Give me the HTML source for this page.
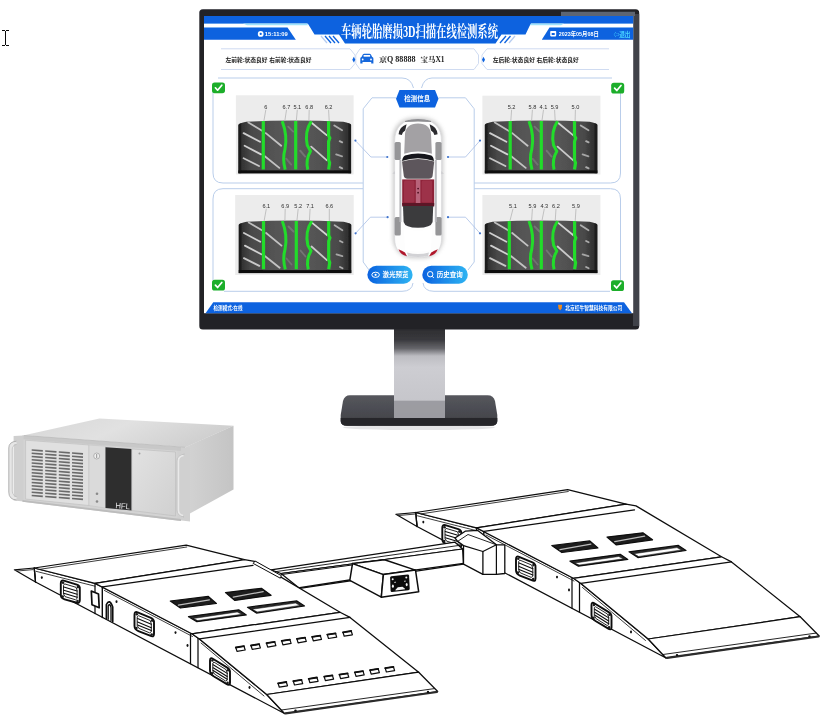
<!DOCTYPE html>
<html lang="zh-CN">
<head>
<meta charset="utf-8">
<title>车辆轮胎磨损3D扫描在线检测系统</title>
<style>
html,body{margin:0;padding:0;background:#fff;}
body{width:829px;height:723px;overflow:hidden;position:relative;font-family:"Liberation Sans","Noto Sans CJK SC",sans-serif;}
svg{position:absolute;left:0;top:0;display:block;}
.t{font-family:"Liberation Sans","Noto Sans CJK SC",sans-serif;}
.ts{font-family:"Liberation Serif","Noto Serif CJK SC",serif;}
.ln{fill:none;stroke:#0d0d0d;stroke-linejoin:round;stroke-linecap:round;}
.lw{fill:#fff;stroke:#0d0d0d;stroke-linejoin:round;stroke-linecap:round;}
.pb{fill:none;}
</style>
</head>
<body>
<svg width="829" height="723" viewBox="0 0 829 723">
<defs>
<linearGradient id="neck" x1="0" y1="0" x2="0" y2="1">
<stop offset="0" stop-color="#2a2a2e"/><stop offset="0.18" stop-color="#39393d"/><stop offset="0.3" stop-color="#66666b"/><stop offset="0.4" stop-color="#bdbdc2"/><stop offset="0.55" stop-color="#cdcdd2"/><stop offset="1" stop-color="#c6c6cb"/>
</linearGradient>
<linearGradient id="base" x1="0" y1="0" x2="0" y2="1">
<stop offset="0" stop-color="#56575d"/><stop offset="0.7" stop-color="#46474d"/><stop offset="1" stop-color="#2c2c30"/>
</linearGradient>
<linearGradient id="btn" x1="0" y1="0" x2="1" y2="0">
<stop offset="0" stop-color="#0a62e0"/><stop offset="1" stop-color="#2fb4f2"/>
</linearGradient>
<filter id="soft" x="-5%" y="-5%" width="110%" height="110%"><feGaussianBlur stdDeviation="0.45"/></filter>
<filter id="soft2" x="-20%" y="-20%" width="140%" height="140%"><feGaussianBlur stdDeviation="2.2"/></filter>
</defs>
<rect x="0" y="0" width="829" height="723" fill="#ffffff"/>
<!-- ===== monitor stand ===== -->
<g filter="url(#soft)">
<ellipse cx="419" cy="427.500" rx="76" ry="2.600" fill="#d9d9dc" opacity="0.700"/>
<path d="M350,395.300 L487.500,395.300 Q493.500,395.300 495,401 L497.300,415 L497.300,421 Q497.300,425.800 491,425.800 L347,425.800 Q340.700,425.800 340.700,421 L340.700,415 L343,401 Q344.500,395.300 350,395.300 Z" fill="url(#base)"/>
<path d="M340.700,418 L497.300,418 L497.300,421 Q497.300,425.800 491,425.800 L347,425.800 Q340.700,425.800 340.700,421 Z" fill="#27272b"/>
<rect x="394" y="326" width="51" height="75" fill="url(#neck)"/>
<rect x="394" y="400.600" width="51" height="17.400" fill="#a3a3a8" opacity="0.920"/>
<!-- bezel -->
<rect x="199.300" y="9.300" width="439.900" height="320.200" rx="3.500" ry="3.500" fill="#242428"/>
<rect x="633" y="14" width="6.200" height="312" fill="#41424a"/>
<rect x="561" y="11.800" width="74" height="4.200" fill="#5d6572"/>
<rect x="204" y="16" width="429.200" height="297.200" fill="#ffffff"/>
</g>
<!-- ===== screen header ===== -->
<g filter="url(#soft)">
<rect x="204" y="16" width="429.200" height="7.600" fill="#0a62df"/>
<polygon points="204,27.600 287.500,27.600 295.800,39.800 204,39.800" fill="#0a62df"/>
<polygon points="549.500,27.600 633.200,27.600 633.200,39.800 541.800,39.800" fill="#0a62df"/>
<polygon points="243,23.600 307,23.600 308,25.200 247,25.200" fill="#9fe3fb"/>
<polygon points="531,23.600 564,23.600 561,25.200 530,25.200" fill="#9fe3fb"/>
<polygon points="307.500,23 531,23 525.500,34.600 501.500,34.600 495.500,43.600 345,43.600 339,34.600 314.500,34.600" fill="#0a62df"/>
<g stroke="#0a62df" stroke-width="1.300" fill="none">
<line x1="325" y1="36" x2="331" y2="43"/><line x1="329" y1="36" x2="335" y2="43"/><line x1="333" y1="36" x2="339" y2="43"/>
<line x1="506" y1="36" x2="500" y2="43"/><line x1="510.500" y1="36" x2="504.500" y2="43"/>
</g>
<g stroke="#b7cdf0" stroke-width="1.300" fill="none">
<line x1="321" y1="36" x2="327" y2="43"/><line x1="515" y1="36" x2="509" y2="43"/>
</g>
<text class="ts" x="419.500" y="37.300" font-size="16" font-weight="700" fill="#ffffff" text-anchor="middle" textLength="157" lengthAdjust="spacingAndGlyphs">车辆轮胎磨损3D扫描在线检测系统</text>
<!-- left tab: clock + time -->
<circle cx="260.700" cy="33.900" r="2.900" fill="#ffffff"/>
<circle cx="260.700" cy="33.900" r="1.100" fill="#0a62df"/>
<text class="t" x="264.800" y="36.200" font-size="6.200" font-weight="700" fill="#ffffff" textLength="23" lengthAdjust="spacingAndGlyphs">15:11:09</text>
<!-- right tab: calendar + date + exit -->
<rect x="550.200" y="31" width="6" height="5.400" rx="0.800" fill="#ffffff"/>
<rect x="551.700" y="33" width="3" height="2" fill="#0a62df"/>
<text class="t" x="558.800" y="36.300" font-size="6.200" font-weight="700" fill="#ffffff" textLength="40" lengthAdjust="spacingAndGlyphs">2023年05月08日</text>
<text class="t" x="613.500" y="36.500" font-size="6.400" font-weight="700" fill="#49d3ff" textLength="17" lengthAdjust="spacingAndGlyphs">⇦退出</text>
</g>
<!-- ===== info row ===== -->
<g filter="url(#soft)">
<path class="pb" stroke="#cfdbf1" stroke-width="1" d="M221,48.800 L350,48.800 L355,55 L355,63.500 L350,69.500 L221,69.500"/>
<path class="pb" stroke="#cfdbf1" stroke-width="1" d="M360,48.800 L355.800,55 L355.800,63.500 L360,69.500 L474,69.500 L478.500,63.500 L478.500,55 L474,48.800 Z"/>
<path class="pb" stroke="#cfdbf1" stroke-width="1" d="M609,48.800 L487,48.800 L482,55 L482,63.500 L487,69.500 L609,69.500"/>
<polygon points="353.800,56.800 355.300,59.700 353.800,62.600 352.300,59.700" fill="#0a62df"/>
<polygon points="483.500,56.800 485,59.700 483.500,62.600 482,59.700" fill="#0a62df"/>
<text class="t" x="225.400" y="61.700" font-size="5.600" font-weight="700" fill="#1a1a1a" textLength="86" lengthAdjust="spacingAndGlyphs">左前轮:状态良好 右前轮:状态良好</text>
<text class="t" x="492.700" y="61.700" font-size="5.600" font-weight="700" fill="#1a1a1a" textLength="86" lengthAdjust="spacingAndGlyphs">左后轮:状态良好 右后轮:状态良好</text>
<path d="M360.300,63.400 L360.300,58.600 Q360.300,57.400 361.500,57 L362.800,54.600 Q363.200,53.700 364.300,53.700 L369.400,53.700 Q370.500,53.700 370.900,54.600 L372.200,57 Q373.400,57.400 373.400,58.600 L373.400,63.400 L371.200,63.400 L371.200,62 L362.500,62 L362.500,63.400 Z" fill="#1668dc"/>
<rect x="363.600" y="55" width="6.500" height="1.700" fill="#ffffff"/>
<circle cx="362.700" cy="59.500" r="0.900" fill="#ffffff"/><circle cx="371" cy="59.500" r="0.900" fill="#ffffff"/>
<text class="ts" x="379" y="62.300" font-size="7.400" font-weight="700" fill="#1a1a1a" textLength="36.500" lengthAdjust="spacingAndGlyphs">京Q 88888</text>
<text class="ts" x="420.500" y="62.300" font-size="7.400" font-weight="700" fill="#1a1a1a" textLength="24" lengthAdjust="spacingAndGlyphs">宝马X1</text>
</g>
<!-- ===== panels ===== -->
<g filter="url(#soft)">
<path class="pb" stroke="#b9cdea" stroke-width="1" d="M213,92 L213,173 Q213,183 223,183 L363,183"/>
<path class="pb" stroke="#b9cdea" stroke-width="1" d="M218,78 L402,78 Q411,78 413.500,88"/>
<path class="pb" stroke="#b9cdea" stroke-width="1" d="M213,280 L213,199 Q213,188.700 223,188.700 L363,188.700"/>
<path class="pb" stroke="#b9cdea" stroke-width="1" d="M224,291.300 L402,291.300 Q412,291.300 413,283"/>
<path class="pb" stroke="#b9cdea" stroke-width="1" d="M620.500,92 L620.500,173 Q620.500,183 610.500,183 L474.200,183"/>
<path class="pb" stroke="#b9cdea" stroke-width="1" d="M612,78 L432,78 Q424,78 421.500,88"/>
<path class="pb" stroke="#b9cdea" stroke-width="1" d="M620.500,280 L620.500,199 Q620.500,188.700 610.500,188.700 L474.200,188.700"/>
<path class="pb" stroke="#b9cdea" stroke-width="1" d="M610,291.300 L434,291.300 Q424,291.300 423,283"/>
<path class="pb" stroke="#b9cdea" stroke-width="1" d="M396,97.800 L372,97.800 L363.200,108.800 L363.200,262 L369,270 M438.500,97.800 L465.500,97.800 L474.200,108.800 L474.200,262 L468,270"/>
<path d="M355.4,140.6 L370.9,157 L387.3,157" fill="none" stroke="#a9bfe6" stroke-width="0.800"/>
<circle cx="355.4" cy="140.6" r="1.100" fill="#3f73cc"/><circle cx="387.3" cy="157" r="1.100" fill="#3f73cc"/>
<path d="M480,140.6 L465.5,157 L448,157" fill="none" stroke="#a9bfe6" stroke-width="0.800"/>
<circle cx="480" cy="140.6" r="1.100" fill="#3f73cc"/><circle cx="448" cy="157" r="1.100" fill="#3f73cc"/>
<path d="M355.6,233.3 L370.4,217.2 L387.6,217.2" fill="none" stroke="#a9bfe6" stroke-width="0.800"/>
<circle cx="355.6" cy="233.3" r="1.100" fill="#3f73cc"/><circle cx="387.6" cy="217.2" r="1.100" fill="#3f73cc"/>
<path d="M480,233.3 L465.5,217.2 L448,217.2" fill="none" stroke="#a9bfe6" stroke-width="0.800"/>
<circle cx="480" cy="233.3" r="1.100" fill="#3f73cc"/><circle cx="448" cy="217.2" r="1.100" fill="#3f73cc"/>
<polygon points="399.500,90 435,90 438.500,98.700 435,107.400 399.500,107.400 396,98.700" fill="#0a62df"/>
<text class="t" x="417.300" y="101.400" font-size="7.200" font-weight="700" fill="#ffffff" text-anchor="middle" textLength="26" lengthAdjust="spacingAndGlyphs">检测信息</text>
<rect x="367.400" y="265.800" width="45.200" height="17.900" rx="8.950" fill="url(#btn)"/>
<rect x="422.300" y="265.800" width="45.500" height="17.900" rx="8.950" fill="url(#btn)"/>
<ellipse cx="375.600" cy="274.800" rx="3.800" ry="2.600" fill="none" stroke="#fff" stroke-width="1"/><circle cx="375.600" cy="274.800" r="1.100" fill="#fff"/>
<circle cx="430.200" cy="274.200" r="2.700" fill="none" stroke="#fff" stroke-width="1"/><line x1="432.100" y1="276.200" x2="433.800" y2="278" stroke="#fff" stroke-width="1"/>
<text class="t" x="382.500" y="277.400" font-size="7" font-weight="700" fill="#ffffff" textLength="26" lengthAdjust="spacingAndGlyphs">激光预览</text>
<text class="t" x="436.800" y="277.400" font-size="7" font-weight="700" fill="#ffffff" textLength="26" lengthAdjust="spacingAndGlyphs">历史查询</text>
<rect x="212" y="82.4" width="13" height="10.800" rx="2.600" fill="#1cae2b"/>
<path d="M215.4,87.8 L217.6,90.2 L221.8,85.2" fill="none" stroke="#ffffff" stroke-width="1.700" stroke-linecap="round" stroke-linejoin="round"/>
<rect x="611.2" y="82.7" width="13" height="10.800" rx="2.600" fill="#1cae2b"/>
<path d="M614.6,88.1 L616.8,90.5 L621.0,85.5" fill="none" stroke="#ffffff" stroke-width="1.700" stroke-linecap="round" stroke-linejoin="round"/>
<rect x="212" y="279.7" width="13" height="10.800" rx="2.600" fill="#1cae2b"/>
<path d="M215.4,285.1 L217.6,287.5 L221.8,282.5" fill="none" stroke="#ffffff" stroke-width="1.700" stroke-linecap="round" stroke-linejoin="round"/>
<rect x="611" y="280.2" width="13" height="10.800" rx="2.600" fill="#1cae2b"/>
<path d="M614.4,285.6 L616.6,288.0 L620.8,283.0" fill="none" stroke="#ffffff" stroke-width="1.700" stroke-linecap="round" stroke-linejoin="round"/>
</g>
<defs><linearGradient id="tg" x1="0" y1="0" x2="1" y2="0"><stop offset="0" stop-color="#2a2a2a"/><stop offset="0.12" stop-color="#4a4a4a"/><stop offset="0.5" stop-color="#5c5c5c"/><stop offset="0.88" stop-color="#4a4a4a"/><stop offset="1" stop-color="#262626"/></linearGradient></defs>
<g filter="url(#soft)">
<rect x="235.9" y="95.3" width="117.7" height="79.1" fill="#ececec"/>
<clipPath id="tc1"><path d="M238.2,173.6 L238.2,125.1 Q239.2,123.1 246.2,121.8 Q294.75,119.19999999999999 343.29999999999995,121.8 Q350.29999999999995,123.1 351.29999999999995,125.1 L351.29999999999995,173.6 Z"/></clipPath>
<g clip-path="url(#tc1)">
<rect x="238.2" y="118.6" width="113.1" height="55" fill="url(#tg)"/>
<line x1="243.6" y1="133.1" x2="260.0" y2="141.8" stroke="#f2f2f2" stroke-width="1.800" stroke-linecap="round" opacity="0.8"/>
<line x1="244.6" y1="145.7" x2="261.0" y2="154.4" stroke="#f2f2f2" stroke-width="1.800" stroke-linecap="round" opacity="0.8"/>
<line x1="243.6" y1="158.2" x2="259.0" y2="166.0" stroke="#f2f2f2" stroke-width="1.800" stroke-linecap="round" opacity="0.75"/>
<line x1="248.4" y1="122.5" x2="262.9" y2="131.2" stroke="#f2f2f2" stroke-width="1.800" stroke-linecap="round" opacity="0.7"/>
<line x1="265.8" y1="133.1" x2="281.2" y2="145.7" stroke="#f2f2f2" stroke-width="1.800" stroke-linecap="round" opacity="0.7"/>
<line x1="264.8" y1="156.3" x2="279.3" y2="167.9" stroke="#f2f2f2" stroke-width="1.800" stroke-linecap="round" opacity="0.7"/>
<line x1="311.2" y1="122.5" x2="326.6" y2="135.1" stroke="#f2f2f2" stroke-width="1.800" stroke-linecap="round" opacity="0.8"/>
<line x1="311.2" y1="146.6" x2="326.6" y2="160.2" stroke="#f2f2f2" stroke-width="1.800" stroke-linecap="round" opacity="0.75"/>
<line x1="334.3" y1="125.4" x2="342.1" y2="130.3" stroke="#f2f2f2" stroke-width="1.800" stroke-linecap="round" opacity="0.6"/>
<line x1="336.2" y1="154.4" x2="342.1" y2="156.3" stroke="#f2f2f2" stroke-width="1.800" stroke-linecap="round" opacity="0.55"/>
<line x1="339.7" y1="141.1" x2="342.2" y2="142.4" stroke="#f2f2f2" stroke-width="1.800" stroke-linecap="round" opacity="0.6"/>
<line x1="339.7" y1="167.1" x2="342.2" y2="168.4" stroke="#f2f2f2" stroke-width="1.800" stroke-linecap="round" opacity="0.6"/>
<line x1="288.2" y1="126.6" x2="293.2" y2="131.6" stroke="#f2f2f2" stroke-width="1.800" stroke-linecap="round" opacity="0.18"/>
<line x1="300.2" y1="150.6" x2="305.2" y2="156.6" stroke="#f2f2f2" stroke-width="1.800" stroke-linecap="round" opacity="0.18"/>
<line x1="286.2" y1="158.6" x2="291.2" y2="164.6" stroke="#f2f2f2" stroke-width="1.800" stroke-linecap="round" opacity="0.15"/>
<rect x="238.2" y="170.4" width="113.1" height="3.200" fill="#0c0c0c"/>
<rect x="238.2" y="118.6" width="3" height="55" fill="#111" opacity="0.6"/>
<rect x="348.29999999999995" y="118.6" width="3" height="55" fill="#111" opacity="0.6"/>
<path d="M263.3,121.1 L263.3,169.6" stroke="#22dc2b" stroke-width="3.200" fill="none"/>
<path d="M282.2,121.1 Q287.7,135.7 285.0,149.2 Q282.2,158.9 285.2,169.6" stroke="#22dc2b" stroke-width="3" fill="none" stroke-linejoin="round"/>
<path d="M295.7,121.1 L295.7,169.6" stroke="#22dc2b" stroke-width="3.200" fill="none"/>
<path d="M311.3,121.1 Q304.3,131.8 307.3,145.3 L310.5,151.2 Q305.3,159.9 307.8,169.6" stroke="#22dc2b" stroke-width="3" fill="none" stroke-linejoin="round"/>
<path d="M328.6,121.1 L328.6,135.65 L329.8,138.075 L328.6,141.47 L328.6,159.9 L329.6,162.81 L328.6,169.6" stroke="#22dc2b" stroke-width="3.200" fill="none"/>
</g>
<line x1="265.8" y1="109.8" x2="263.9" y2="121.1" stroke="#b5b5b5" stroke-width="0.800"/>
<text class="t" x="265.8" y="108.9" font-size="5.600" fill="#2e2e2e" text-anchor="middle">6</text>
<line x1="286.5" y1="109.8" x2="284.8" y2="121.1" stroke="#b5b5b5" stroke-width="0.800"/>
<text class="t" x="286.5" y="108.9" font-size="5.600" fill="#2e2e2e" text-anchor="middle">6.7</text>
<line x1="297.3" y1="109.8" x2="296.3" y2="121.1" stroke="#b5b5b5" stroke-width="0.800"/>
<text class="t" x="297.3" y="108.9" font-size="5.600" fill="#2e2e2e" text-anchor="middle">5.1</text>
<line x1="309.2" y1="109.8" x2="308.9" y2="121.1" stroke="#b5b5b5" stroke-width="0.800"/>
<text class="t" x="309.2" y="108.9" font-size="5.600" fill="#2e2e2e" text-anchor="middle">6.8</text>
<line x1="328.6" y1="109.8" x2="329.2" y2="121.1" stroke="#b5b5b5" stroke-width="0.800"/>
<text class="t" x="328.6" y="108.9" font-size="5.600" fill="#2e2e2e" text-anchor="middle">6.2</text>
</g>
<g filter="url(#soft)">
<rect x="235.2" y="195" width="118.5" height="80" fill="#ececec"/>
<clipPath id="tc2"><path d="M238.5,273.3 L238.5,225.0 Q239.5,223.0 246.5,221.7 Q295.0,219.1 343.5,221.7 Q350.5,223.0 351.5,225.0 L351.5,273.3 Z"/></clipPath>
<g clip-path="url(#tc2)">
<rect x="238.5" y="218.5" width="113" height="54.8" fill="url(#tg)"/>
<line x1="243.9" y1="233.0" x2="260.3" y2="241.7" stroke="#f2f2f2" stroke-width="1.800" stroke-linecap="round" opacity="0.8"/>
<line x1="244.9" y1="245.6" x2="261.3" y2="254.3" stroke="#f2f2f2" stroke-width="1.800" stroke-linecap="round" opacity="0.8"/>
<line x1="243.9" y1="258.1" x2="259.3" y2="265.9" stroke="#f2f2f2" stroke-width="1.800" stroke-linecap="round" opacity="0.75"/>
<line x1="248.7" y1="222.4" x2="263.2" y2="231.1" stroke="#f2f2f2" stroke-width="1.800" stroke-linecap="round" opacity="0.7"/>
<line x1="266.1" y1="233.0" x2="281.5" y2="245.6" stroke="#f2f2f2" stroke-width="1.800" stroke-linecap="round" opacity="0.7"/>
<line x1="265.1" y1="256.2" x2="279.6" y2="267.8" stroke="#f2f2f2" stroke-width="1.800" stroke-linecap="round" opacity="0.7"/>
<line x1="311.5" y1="222.4" x2="326.9" y2="235.0" stroke="#f2f2f2" stroke-width="1.800" stroke-linecap="round" opacity="0.8"/>
<line x1="311.5" y1="246.5" x2="326.9" y2="260.1" stroke="#f2f2f2" stroke-width="1.800" stroke-linecap="round" opacity="0.75"/>
<line x1="334.6" y1="225.3" x2="342.4" y2="230.2" stroke="#f2f2f2" stroke-width="1.800" stroke-linecap="round" opacity="0.6"/>
<line x1="336.5" y1="254.3" x2="342.4" y2="256.2" stroke="#f2f2f2" stroke-width="1.800" stroke-linecap="round" opacity="0.55"/>
<line x1="340.0" y1="241.0" x2="342.5" y2="242.3" stroke="#f2f2f2" stroke-width="1.800" stroke-linecap="round" opacity="0.6"/>
<line x1="340.0" y1="267.0" x2="342.5" y2="268.3" stroke="#f2f2f2" stroke-width="1.800" stroke-linecap="round" opacity="0.6"/>
<line x1="288.5" y1="226.5" x2="293.5" y2="231.5" stroke="#f2f2f2" stroke-width="1.800" stroke-linecap="round" opacity="0.18"/>
<line x1="300.5" y1="250.5" x2="305.5" y2="256.5" stroke="#f2f2f2" stroke-width="1.800" stroke-linecap="round" opacity="0.18"/>
<line x1="286.5" y1="258.5" x2="291.5" y2="264.5" stroke="#f2f2f2" stroke-width="1.800" stroke-linecap="round" opacity="0.15"/>
<rect x="238.5" y="270.1" width="113" height="3.200" fill="#0c0c0c"/>
<rect x="238.5" y="218.5" width="3" height="54.8" fill="#111" opacity="0.6"/>
<rect x="348.5" y="218.5" width="3" height="54.8" fill="#111" opacity="0.6"/>
<path d="M263.5,221.0 L263.5,269.3" stroke="#22dc2b" stroke-width="3.200" fill="none"/>
<path d="M282.3,221.0 Q287.8,235.5 285.1,249.0 Q282.3,258.7 285.3,269.3" stroke="#22dc2b" stroke-width="3" fill="none" stroke-linejoin="round"/>
<path d="M296.3,221.0 L296.3,269.3" stroke="#22dc2b" stroke-width="3.200" fill="none"/>
<path d="M311.8,221.0 Q304.8,231.6 307.8,245.2 L311.0,250.9 Q305.8,259.6 308.3,269.3" stroke="#22dc2b" stroke-width="3" fill="none" stroke-linejoin="round"/>
<path d="M328.7,221.0 L328.7,235.49 L329.9,237.905 L328.7,241.286 L328.7,259.64 L329.7,262.538 L328.7,269.3" stroke="#22dc2b" stroke-width="3.200" fill="none"/>
</g>
<line x1="266.3" y1="208.8" x2="264.1" y2="221.0" stroke="#b5b5b5" stroke-width="0.800"/>
<text class="t" x="266.3" y="207.9" font-size="5.600" fill="#2e2e2e" text-anchor="middle">6.1</text>
<line x1="285.2" y1="208.8" x2="284.9" y2="221.0" stroke="#b5b5b5" stroke-width="0.800"/>
<text class="t" x="285.2" y="207.9" font-size="5.600" fill="#2e2e2e" text-anchor="middle">6.9</text>
<line x1="298.2" y1="208.8" x2="296.9" y2="221.0" stroke="#b5b5b5" stroke-width="0.800"/>
<text class="t" x="298.2" y="207.9" font-size="5.600" fill="#2e2e2e" text-anchor="middle">5.2</text>
<line x1="310.1" y1="208.8" x2="309.4" y2="221.0" stroke="#b5b5b5" stroke-width="0.800"/>
<text class="t" x="310.1" y="207.9" font-size="5.600" fill="#2e2e2e" text-anchor="middle">7.1</text>
<line x1="329.3" y1="208.8" x2="329.3" y2="221.0" stroke="#b5b5b5" stroke-width="0.800"/>
<text class="t" x="329.3" y="207.9" font-size="5.600" fill="#2e2e2e" text-anchor="middle">6.6</text>
</g>
<g filter="url(#soft)">
<rect x="482.4" y="95.7" width="118" height="78.8" fill="#ececec"/>
<clipPath id="tc3"><path d="M484.6,173.6 L484.6,125.1 Q485.6,123.1 492.6,121.8 Q541.1,119.19999999999999 589.6,121.8 Q596.6,123.1 597.6,125.1 L597.6,173.6 Z"/></clipPath>
<g clip-path="url(#tc3)">
<rect x="484.6" y="118.6" width="113" height="55" fill="url(#tg)"/>
<line x1="490.0" y1="133.1" x2="506.4" y2="141.8" stroke="#f2f2f2" stroke-width="1.800" stroke-linecap="round" opacity="0.8"/>
<line x1="491.0" y1="145.7" x2="507.4" y2="154.4" stroke="#f2f2f2" stroke-width="1.800" stroke-linecap="round" opacity="0.8"/>
<line x1="490.0" y1="158.2" x2="505.4" y2="166.0" stroke="#f2f2f2" stroke-width="1.800" stroke-linecap="round" opacity="0.75"/>
<line x1="494.8" y1="122.5" x2="509.3" y2="131.2" stroke="#f2f2f2" stroke-width="1.800" stroke-linecap="round" opacity="0.7"/>
<line x1="512.2" y1="133.1" x2="527.6" y2="145.7" stroke="#f2f2f2" stroke-width="1.800" stroke-linecap="round" opacity="0.7"/>
<line x1="511.2" y1="156.3" x2="525.7" y2="167.9" stroke="#f2f2f2" stroke-width="1.800" stroke-linecap="round" opacity="0.7"/>
<line x1="557.6" y1="122.5" x2="573.0" y2="135.1" stroke="#f2f2f2" stroke-width="1.800" stroke-linecap="round" opacity="0.8"/>
<line x1="557.6" y1="146.6" x2="573.0" y2="160.2" stroke="#f2f2f2" stroke-width="1.800" stroke-linecap="round" opacity="0.75"/>
<line x1="580.7" y1="125.4" x2="588.5" y2="130.3" stroke="#f2f2f2" stroke-width="1.800" stroke-linecap="round" opacity="0.6"/>
<line x1="582.6" y1="154.4" x2="588.5" y2="156.3" stroke="#f2f2f2" stroke-width="1.800" stroke-linecap="round" opacity="0.55"/>
<line x1="586.1" y1="141.1" x2="588.6" y2="142.4" stroke="#f2f2f2" stroke-width="1.800" stroke-linecap="round" opacity="0.6"/>
<line x1="586.1" y1="167.1" x2="588.6" y2="168.4" stroke="#f2f2f2" stroke-width="1.800" stroke-linecap="round" opacity="0.6"/>
<line x1="534.6" y1="126.6" x2="539.6" y2="131.6" stroke="#f2f2f2" stroke-width="1.800" stroke-linecap="round" opacity="0.18"/>
<line x1="546.6" y1="150.6" x2="551.6" y2="156.6" stroke="#f2f2f2" stroke-width="1.800" stroke-linecap="round" opacity="0.18"/>
<line x1="532.6" y1="158.6" x2="537.6" y2="164.6" stroke="#f2f2f2" stroke-width="1.800" stroke-linecap="round" opacity="0.15"/>
<rect x="484.6" y="170.4" width="113" height="3.200" fill="#0c0c0c"/>
<rect x="484.6" y="118.6" width="3" height="55" fill="#111" opacity="0.6"/>
<rect x="594.6" y="118.6" width="3" height="55" fill="#111" opacity="0.6"/>
<path d="M510.2,121.1 L510.2,169.6" stroke="#22dc2b" stroke-width="3.200" fill="none"/>
<path d="M529.0,121.1 Q534.5,135.7 531.8,149.2 Q529.0,158.9 532.0,169.6" stroke="#22dc2b" stroke-width="3" fill="none" stroke-linejoin="round"/>
<path d="M541.3,121.1 L541.3,169.6" stroke="#22dc2b" stroke-width="3.200" fill="none"/>
<path d="M557.6,121.1 Q550.6,131.8 553.6,145.3 L556.8,151.2 Q551.6,159.9 554.1,169.6" stroke="#22dc2b" stroke-width="3" fill="none" stroke-linejoin="round"/>
<path d="M574.5,121.1 L574.5,135.65 L575.7,138.075 L574.5,141.47 L574.5,159.9 L575.5,162.81 L574.5,169.6" stroke="#22dc2b" stroke-width="3.200" fill="none"/>
</g>
<line x1="511.6" y1="109.8" x2="510.8" y2="121.1" stroke="#b5b5b5" stroke-width="0.800"/>
<text class="t" x="511.6" y="108.9" font-size="5.600" fill="#2e2e2e" text-anchor="middle">5.2</text>
<line x1="532.4" y1="109.8" x2="531.6" y2="121.1" stroke="#b5b5b5" stroke-width="0.800"/>
<text class="t" x="532.4" y="108.9" font-size="5.600" fill="#2e2e2e" text-anchor="middle">5.8</text>
<line x1="543.5" y1="109.8" x2="541.9" y2="121.1" stroke="#b5b5b5" stroke-width="0.800"/>
<text class="t" x="543.5" y="108.9" font-size="5.600" fill="#2e2e2e" text-anchor="middle">4.1</text>
<line x1="554.6" y1="109.8" x2="555.2" y2="121.1" stroke="#b5b5b5" stroke-width="0.800"/>
<text class="t" x="554.6" y="108.9" font-size="5.600" fill="#2e2e2e" text-anchor="middle">5.9</text>
<line x1="575.4" y1="109.8" x2="575.1" y2="121.1" stroke="#b5b5b5" stroke-width="0.800"/>
<text class="t" x="575.4" y="108.9" font-size="5.600" fill="#2e2e2e" text-anchor="middle">5.0</text>
</g>
<g filter="url(#soft)">
<rect x="482.4" y="195" width="118" height="80" fill="#ececec"/>
<clipPath id="tc4"><path d="M484.6,273.3 L484.6,225.0 Q485.6,223.0 492.6,221.7 Q541.1,219.1 589.6,221.7 Q596.6,223.0 597.6,225.0 L597.6,273.3 Z"/></clipPath>
<g clip-path="url(#tc4)">
<rect x="484.6" y="218.5" width="113" height="54.8" fill="url(#tg)"/>
<line x1="490.0" y1="233.0" x2="506.4" y2="241.7" stroke="#f2f2f2" stroke-width="1.800" stroke-linecap="round" opacity="0.8"/>
<line x1="491.0" y1="245.6" x2="507.4" y2="254.3" stroke="#f2f2f2" stroke-width="1.800" stroke-linecap="round" opacity="0.8"/>
<line x1="490.0" y1="258.1" x2="505.4" y2="265.9" stroke="#f2f2f2" stroke-width="1.800" stroke-linecap="round" opacity="0.75"/>
<line x1="494.8" y1="222.4" x2="509.3" y2="231.1" stroke="#f2f2f2" stroke-width="1.800" stroke-linecap="round" opacity="0.7"/>
<line x1="512.2" y1="233.0" x2="527.6" y2="245.6" stroke="#f2f2f2" stroke-width="1.800" stroke-linecap="round" opacity="0.7"/>
<line x1="511.2" y1="256.2" x2="525.7" y2="267.8" stroke="#f2f2f2" stroke-width="1.800" stroke-linecap="round" opacity="0.7"/>
<line x1="557.6" y1="222.4" x2="573.0" y2="235.0" stroke="#f2f2f2" stroke-width="1.800" stroke-linecap="round" opacity="0.8"/>
<line x1="557.6" y1="246.5" x2="573.0" y2="260.1" stroke="#f2f2f2" stroke-width="1.800" stroke-linecap="round" opacity="0.75"/>
<line x1="580.7" y1="225.3" x2="588.5" y2="230.2" stroke="#f2f2f2" stroke-width="1.800" stroke-linecap="round" opacity="0.6"/>
<line x1="582.6" y1="254.3" x2="588.5" y2="256.2" stroke="#f2f2f2" stroke-width="1.800" stroke-linecap="round" opacity="0.55"/>
<line x1="586.1" y1="241.0" x2="588.6" y2="242.3" stroke="#f2f2f2" stroke-width="1.800" stroke-linecap="round" opacity="0.6"/>
<line x1="586.1" y1="267.0" x2="588.6" y2="268.3" stroke="#f2f2f2" stroke-width="1.800" stroke-linecap="round" opacity="0.6"/>
<line x1="534.6" y1="226.5" x2="539.6" y2="231.5" stroke="#f2f2f2" stroke-width="1.800" stroke-linecap="round" opacity="0.18"/>
<line x1="546.6" y1="250.5" x2="551.6" y2="256.5" stroke="#f2f2f2" stroke-width="1.800" stroke-linecap="round" opacity="0.18"/>
<line x1="532.6" y1="258.5" x2="537.6" y2="264.5" stroke="#f2f2f2" stroke-width="1.800" stroke-linecap="round" opacity="0.15"/>
<rect x="484.6" y="270.1" width="113" height="3.200" fill="#0c0c0c"/>
<rect x="484.6" y="218.5" width="3" height="54.8" fill="#111" opacity="0.6"/>
<rect x="594.6" y="218.5" width="3" height="54.8" fill="#111" opacity="0.6"/>
<path d="M509.3,221.0 L509.3,269.3" stroke="#22dc2b" stroke-width="3.200" fill="none"/>
<path d="M529.0,221.0 Q534.5,235.5 531.8,249.0 Q529.0,258.7 532.0,269.3" stroke="#22dc2b" stroke-width="3" fill="none" stroke-linejoin="round"/>
<path d="M541.3,221.0 L541.3,269.3" stroke="#22dc2b" stroke-width="3.200" fill="none"/>
<path d="M557.6,221.0 Q550.6,231.6 553.6,245.2 L556.8,250.9 Q551.6,259.6 554.1,269.3" stroke="#22dc2b" stroke-width="3" fill="none" stroke-linejoin="round"/>
<path d="M574.6,221.0 L574.6,235.49 L575.8000000000001,237.905 L574.6,241.286 L574.6,259.64 L575.6,262.538 L574.6,269.3" stroke="#22dc2b" stroke-width="3.200" fill="none"/>
</g>
<line x1="513" y1="208.8" x2="509.9" y2="221.0" stroke="#b5b5b5" stroke-width="0.800"/>
<text class="t" x="513" y="207.9" font-size="5.600" fill="#2e2e2e" text-anchor="middle">5.1</text>
<line x1="532.4" y1="208.8" x2="531.6" y2="221.0" stroke="#b5b5b5" stroke-width="0.800"/>
<text class="t" x="532.4" y="207.9" font-size="5.600" fill="#2e2e2e" text-anchor="middle">5.9</text>
<line x1="544.3" y1="208.8" x2="541.9" y2="221.0" stroke="#b5b5b5" stroke-width="0.800"/>
<text class="t" x="544.3" y="207.9" font-size="5.600" fill="#2e2e2e" text-anchor="middle">4.3</text>
<line x1="556" y1="208.8" x2="555.2" y2="221.0" stroke="#b5b5b5" stroke-width="0.800"/>
<text class="t" x="556" y="207.9" font-size="5.600" fill="#2e2e2e" text-anchor="middle">6.2</text>
<line x1="576" y1="208.8" x2="575.2" y2="221.0" stroke="#b5b5b5" stroke-width="0.800"/>
<text class="t" x="576" y="207.9" font-size="5.600" fill="#2e2e2e" text-anchor="middle">5.9</text>
</g>
<!-- ===== footer bar ===== -->
<g filter="url(#soft)">
<polygon points="213.300,302.300 624,302.300 632,313.200 205.500,313.200" fill="#0a62df"/>
<text class="t" x="213.500" y="310" font-size="5.400" font-weight="700" fill="#ffffff" textLength="29" lengthAdjust="spacingAndGlyphs">检测模式:在线</text>
<path d="M558,304.800 L562.200,304.800 L561.700,308.500 L560.100,310.600 L558.500,308.500 Z" fill="#f08a1c"/>
<text class="t" x="565.300" y="310" font-size="5.400" font-weight="700" fill="#ffffff" textLength="57" lengthAdjust="spacingAndGlyphs">北京红牛智慧科技有限公司</text>
</g>
<!-- ===== car (top view) ===== -->
<g>
<rect x="393" y="118" width="50" height="140" rx="20" fill="#9a9a9a" opacity="0.550" filter="url(#soft2)"/>
<g filter="url(#soft)">
<path d="M418.100,118.900 C433,118.900 441.600,127 441.600,141 L441.600,238 C441.600,250 436,257.300 418.100,257.300 C400,257.300 394.600,250 394.600,238 L394.600,141 C394.600,127 403,118.900 418.100,118.900 Z" fill="#fdfdfd" stroke="#d9d9dc" stroke-width="0.800"/>
<!-- front bumper shade -->
<path d="M405,121.500 Q418,117.500 431,121.500 Q418,120.500 405,121.500 Z" fill="#8f8f92" stroke="#8f8f92" stroke-width="1.200"/>
<!-- wheels -->
<rect x="394.600" y="142" width="6.200" height="18" rx="1.500" fill="#8b8b8d" opacity="0.900"/>
<rect x="435.400" y="142" width="6.200" height="18" rx="1.500" fill="#8b8b8d" opacity="0.900"/>
<rect x="394.600" y="217" width="6.200" height="18.500" rx="1.500" fill="#8b8b8d" opacity="0.900"/>
<rect x="435.400" y="217" width="6.200" height="18.500" rx="1.500" fill="#8b8b8d" opacity="0.900"/>
<!-- side sills -->
<rect x="399.400" y="160" width="2" height="62" fill="#b9b9bd"/>
<rect x="434.800" y="160" width="2" height="62" fill="#b9b9bd"/>
<!-- headlights -->
<path d="M398.600,134.200 Q399.200,127 406.600,124.300 L405.200,130.500 Q402.200,132 401.800,135 Z" fill="#2b2b2e"/>
<path d="M437.600,134.200 Q437,127 429.600,124.300 L431,130.500 Q434,132 434.400,135 Z" fill="#2b2b2e"/>
<!-- hood -->
<path d="M404.200,153.700 L405,134 Q406,123.400 418,123.400 Q430,123.400 431,134 L431.900,153.700 Q418,149.500 404.200,153.700 Z" fill="#a3a1a4"/>
<!-- windshield -->
<path d="M402,160.900 Q403,156.500 405,155.600 Q418,151.500 431.300,155.600 Q433.300,156.500 434,160.900 Q418,155.500 402,160.900 Z" fill="#17171a"/>
<!-- dashboard -->
<path d="M402,161.500 Q418,156.300 434.200,161.500 L432.600,176 Q431.800,178.800 429,178.800 L407.400,178.800 Q404.600,178.800 403.800,176 Z" fill="#5d575b"/>
<!-- interior -->
<rect x="402.200" y="179.400" width="32" height="26" fill="#8d2238"/>
<rect x="404" y="180.500" width="10.500" height="22" rx="1.500" fill="#9d3348"/>
<rect x="421.600" y="180.500" width="10.500" height="22" rx="1.500" fill="#9d3348"/>
<rect x="415.800" y="180" width="4.600" height="24" fill="#b8647a"/>
<circle cx="418.100" cy="188.600" r="0.900" fill="#4d1020"/><circle cx="418.100" cy="192.700" r="0.900" fill="#4d1020"/>
<rect x="402.200" y="203" width="32" height="3.500" fill="#5b1526"/>
<!-- rear deck -->
<path d="M403,206 L433.200,206 L432.600,222 Q431,227.800 418,227.800 Q405,227.800 403.600,222 Z" fill="#3b3b3e"/>
<!-- trunk -->
<path d="M404,229 Q418,232 432,229 L431,250 Q418,253 405,250 Z" fill="#ffffff"/>
<path d="M407,252.500 Q418,255.500 429,252.500 L428,256 Q418,258 408,256 Z" fill="#d2d2d5"/>
<!-- tail lights -->
<path d="M398.400,249.300 Q402,250.600 405,252.500 L407,256.300 Q400.500,255 398.400,249.300 Z" fill="#b0182c"/>
<path d="M437.800,249.300 Q434.200,250.600 431.200,252.500 L429.200,256.300 Q435.700,255 437.800,249.300 Z" fill="#b0182c"/>
<!-- mirrors -->
<path d="M395,171 L392.300,173.600 L395,174.200 Z" fill="#cfcfd2"/>
<path d="M441.200,171 L443.900,173.600 L441.200,174.200 Z" fill="#cfcfd2"/>
</g>
</g>
<!-- ===== industrial PC ===== -->
<defs>
<linearGradient id="pctop" x1="0" y1="0" x2="1" y2="0.3"><stop offset="0" stop-color="#d6d6d6"/><stop offset="0.5" stop-color="#e1e1e1"/><stop offset="1" stop-color="#cfcfcf"/></linearGradient>
<linearGradient id="pcside" x1="0" y1="0" x2="1" y2="0"><stop offset="0" stop-color="#d3d3d3"/><stop offset="1" stop-color="#c4c4c4"/></linearGradient>
<linearGradient id="pcdoor" x1="0" y1="0" x2="1" y2="1"><stop offset="0" stop-color="#e2e2e2"/><stop offset="1" stop-color="#d0d0d0"/></linearGradient>
</defs>
<g filter="url(#soft)">
<polygon points="24.100,435.200 99.500,418.600 233.500,425.800 185.500,447.300" fill="url(#pctop)"/>
<polygon points="185.500,447 233.500,425.800 233.500,489.500 189,514" fill="url(#pcside)"/>
<polygon points="22.500,435.200 181,447.200 181,521 22.500,501.800" fill="#d3d3d3"/>
<polygon points="13.600,436 23.500,435.400 23.500,501.500 13.600,500.500" fill="#cfcfcf"/>
<path d="M16.500,442.500 Q10.500,443 10.500,448 L10.500,492 Q10.500,498 16.500,498.500" fill="none" stroke="#e6e6e6" stroke-width="3"/>
<path d="M16.500,441.200 Q8.800,441.800 8.800,448 L8.800,492 Q8.800,499.500 16.500,500" fill="none" stroke="#a9a9a9" stroke-width="0.900"/>
<path d="M16.500,444.500 Q12.300,445 12.300,449 L12.300,491 Q12.300,496 16.500,496.600" fill="none" stroke="#b9b9b9" stroke-width="0.800"/>
<polygon points="177.500,447 190,447.500 190,521.500 177.500,520" fill="#d0d0d0"/>
<path d="M183.500,455 Q178,456 178,461 L178,510 Q178,515 183,516" fill="none" stroke="#e9e9e9" stroke-width="2.400"/>
<path d="M184.500,454 Q177,455 177,461 L177,510 Q177,516 184,517" fill="none" stroke="#b2b2b2" stroke-width="0.700"/>
<polygon points="25.600,440.200 89,445 89,505.500 25.600,499" fill="#e0e0e0" stroke="#bdbdbd" stroke-width="0.600"/>
<line x1="31.7" y1="450.00" x2="42.8" y2="450.83" stroke="#6b6b6b" stroke-width="1.600"/>
<line x1="31.7" y1="453.25" x2="42.8" y2="454.08" stroke="#6b6b6b" stroke-width="1.600"/>
<line x1="31.7" y1="456.50" x2="42.8" y2="457.33" stroke="#6b6b6b" stroke-width="1.600"/>
<line x1="31.7" y1="459.75" x2="42.8" y2="460.58" stroke="#6b6b6b" stroke-width="1.600"/>
<line x1="31.7" y1="463.00" x2="42.8" y2="463.83" stroke="#6b6b6b" stroke-width="1.600"/>
<line x1="31.7" y1="466.25" x2="42.8" y2="467.08" stroke="#6b6b6b" stroke-width="1.600"/>
<line x1="31.7" y1="469.50" x2="42.8" y2="470.33" stroke="#6b6b6b" stroke-width="1.600"/>
<line x1="31.7" y1="472.75" x2="42.8" y2="473.58" stroke="#6b6b6b" stroke-width="1.600"/>
<line x1="31.7" y1="476.00" x2="42.8" y2="476.83" stroke="#6b6b6b" stroke-width="1.600"/>
<line x1="31.7" y1="479.25" x2="42.8" y2="480.08" stroke="#6b6b6b" stroke-width="1.600"/>
<line x1="31.7" y1="482.50" x2="42.8" y2="483.33" stroke="#6b6b6b" stroke-width="1.600"/>
<line x1="31.7" y1="485.75" x2="42.8" y2="486.58" stroke="#6b6b6b" stroke-width="1.600"/>
<line x1="31.7" y1="489.00" x2="42.8" y2="489.83" stroke="#6b6b6b" stroke-width="1.600"/>
<line x1="31.7" y1="492.25" x2="42.8" y2="493.08" stroke="#6b6b6b" stroke-width="1.600"/>
<line x1="31.7" y1="495.50" x2="42.8" y2="496.33" stroke="#6b6b6b" stroke-width="1.600"/>
<line x1="45.2" y1="451.01" x2="56.5" y2="451.86" stroke="#6b6b6b" stroke-width="1.600"/>
<line x1="45.2" y1="454.26" x2="56.5" y2="455.11" stroke="#6b6b6b" stroke-width="1.600"/>
<line x1="45.2" y1="457.51" x2="56.5" y2="458.36" stroke="#6b6b6b" stroke-width="1.600"/>
<line x1="45.2" y1="460.76" x2="56.5" y2="461.61" stroke="#6b6b6b" stroke-width="1.600"/>
<line x1="45.2" y1="464.01" x2="56.5" y2="464.86" stroke="#6b6b6b" stroke-width="1.600"/>
<line x1="45.2" y1="467.26" x2="56.5" y2="468.11" stroke="#6b6b6b" stroke-width="1.600"/>
<line x1="45.2" y1="470.51" x2="56.5" y2="471.36" stroke="#6b6b6b" stroke-width="1.600"/>
<line x1="45.2" y1="473.76" x2="56.5" y2="474.61" stroke="#6b6b6b" stroke-width="1.600"/>
<line x1="45.2" y1="477.01" x2="56.5" y2="477.86" stroke="#6b6b6b" stroke-width="1.600"/>
<line x1="45.2" y1="480.26" x2="56.5" y2="481.11" stroke="#6b6b6b" stroke-width="1.600"/>
<line x1="45.2" y1="483.51" x2="56.5" y2="484.36" stroke="#6b6b6b" stroke-width="1.600"/>
<line x1="45.2" y1="486.76" x2="56.5" y2="487.61" stroke="#6b6b6b" stroke-width="1.600"/>
<line x1="45.2" y1="490.01" x2="56.5" y2="490.86" stroke="#6b6b6b" stroke-width="1.600"/>
<line x1="45.2" y1="493.26" x2="56.5" y2="494.11" stroke="#6b6b6b" stroke-width="1.600"/>
<line x1="45.2" y1="496.51" x2="56.5" y2="497.36" stroke="#6b6b6b" stroke-width="1.600"/>
<line x1="58.8" y1="452.03" x2="69.8" y2="452.86" stroke="#6b6b6b" stroke-width="1.600"/>
<line x1="58.8" y1="455.28" x2="69.8" y2="456.11" stroke="#6b6b6b" stroke-width="1.600"/>
<line x1="58.8" y1="458.53" x2="69.8" y2="459.36" stroke="#6b6b6b" stroke-width="1.600"/>
<line x1="58.8" y1="461.78" x2="69.8" y2="462.61" stroke="#6b6b6b" stroke-width="1.600"/>
<line x1="58.8" y1="465.03" x2="69.8" y2="465.86" stroke="#6b6b6b" stroke-width="1.600"/>
<line x1="58.8" y1="468.28" x2="69.8" y2="469.11" stroke="#6b6b6b" stroke-width="1.600"/>
<line x1="58.8" y1="471.53" x2="69.8" y2="472.36" stroke="#6b6b6b" stroke-width="1.600"/>
<line x1="58.8" y1="474.78" x2="69.8" y2="475.61" stroke="#6b6b6b" stroke-width="1.600"/>
<line x1="58.8" y1="478.03" x2="69.8" y2="478.86" stroke="#6b6b6b" stroke-width="1.600"/>
<line x1="58.8" y1="481.28" x2="69.8" y2="482.11" stroke="#6b6b6b" stroke-width="1.600"/>
<line x1="58.8" y1="484.53" x2="69.8" y2="485.36" stroke="#6b6b6b" stroke-width="1.600"/>
<line x1="58.8" y1="487.78" x2="69.8" y2="488.61" stroke="#6b6b6b" stroke-width="1.600"/>
<line x1="58.8" y1="491.03" x2="69.8" y2="491.86" stroke="#6b6b6b" stroke-width="1.600"/>
<line x1="58.8" y1="494.28" x2="69.8" y2="495.11" stroke="#6b6b6b" stroke-width="1.600"/>
<line x1="58.8" y1="497.53" x2="69.8" y2="498.36" stroke="#6b6b6b" stroke-width="1.600"/>
<line x1="72" y1="453.02" x2="83" y2="453.85" stroke="#6b6b6b" stroke-width="1.600"/>
<line x1="72" y1="456.27" x2="83" y2="457.10" stroke="#6b6b6b" stroke-width="1.600"/>
<line x1="72" y1="459.52" x2="83" y2="460.35" stroke="#6b6b6b" stroke-width="1.600"/>
<line x1="72" y1="462.77" x2="83" y2="463.60" stroke="#6b6b6b" stroke-width="1.600"/>
<line x1="72" y1="466.02" x2="83" y2="466.85" stroke="#6b6b6b" stroke-width="1.600"/>
<line x1="72" y1="469.27" x2="83" y2="470.10" stroke="#6b6b6b" stroke-width="1.600"/>
<line x1="72" y1="472.52" x2="83" y2="473.35" stroke="#6b6b6b" stroke-width="1.600"/>
<line x1="72" y1="475.77" x2="83" y2="476.60" stroke="#6b6b6b" stroke-width="1.600"/>
<line x1="72" y1="479.02" x2="83" y2="479.85" stroke="#6b6b6b" stroke-width="1.600"/>
<line x1="72" y1="482.27" x2="83" y2="483.10" stroke="#6b6b6b" stroke-width="1.600"/>
<line x1="72" y1="485.52" x2="83" y2="486.35" stroke="#6b6b6b" stroke-width="1.600"/>
<line x1="72" y1="488.77" x2="83" y2="489.60" stroke="#6b6b6b" stroke-width="1.600"/>
<line x1="72" y1="492.02" x2="83" y2="492.85" stroke="#6b6b6b" stroke-width="1.600"/>
<line x1="72" y1="495.27" x2="83" y2="496.10" stroke="#6b6b6b" stroke-width="1.600"/>
<line x1="72" y1="498.52" x2="83" y2="499.35" stroke="#6b6b6b" stroke-width="1.600"/>
<polygon points="89,445 105.500,446.200 105.500,508 89,505.500" fill="#dadada" stroke="#c2c2c2" stroke-width="0.500"/>
<circle cx="96.700" cy="456" r="3" fill="#f0f0f0" stroke="#9c9c9c" stroke-width="0.700"/><line x1="96.700" y1="454" x2="96.700" y2="458" stroke="#777" stroke-width="0.800"/>
<circle cx="97" cy="493.800" r="1.300" fill="#8a8a8a"/><circle cx="97" cy="501.500" r="1.300" fill="#8a8a8a"/>
<polygon points="105.500,447.200 131.800,449 131.800,510.500 105.500,508" fill="#2d2d2f"/>
<text class="t" x="115.300" y="508.300" font-size="8.200" fill="#e9e9e9" textLength="14.500" lengthAdjust="spacingAndGlyphs" transform="rotate(4 115 508)">HFL</text>
<polygon points="131.800,449 175.500,452 175.500,516 131.800,510.500" fill="url(#pcdoor)" stroke="#bcbcbc" stroke-width="0.600"/>
<circle cx="139.500" cy="453.500" r="1" fill="#a0a0a0"/>
<polygon points="22.500,501.800 181,521 181,519 22.500,500" fill="#bcbcbc"/>
<polygon points="23.500,435.400 181,447.200 181,451 23.500,439.300" fill="#c6c6c6" opacity="0.850"/>
<line x1="24.100" y1="435.500" x2="185" y2="447.300" stroke="#bdbdbd" stroke-width="0.900"/>
</g>
<!-- ===== ramps (line drawing) ===== -->
<g stroke-width="1.250">
<g>
<polygon class="lw" points="415.7,512.5 476.5,527.9 484.0,531.4 574.0,578.4 580.9,583.4 648.2,639.0 666.0,658.0 417.0,526.5"/>
<polygon class="lw" points="395.9,514.3 415.7,512.5 417.0,526.5"/>
<polyline class="ln" points="399.0,515.5 414.5,514.1" stroke-width="0.800"/>
<polygon class="lw" points="415.7,512.5 567.7,489.7 626.0,504.1 476.5,527.9"/>
<polyline class="ln" points="421.5,513.8 568.3,491.5" stroke-width="0.800"/>
<polygon class="lw" points="476.5,527.9 626.0,504.1 636.0,505.9 721.5,556.8 573.3,578.3"/>
<polyline class="ln" points="484.0,531.4 634.5,509.9"/>
<polygon class="lw" points="573.3,578.3 721.5,556.8 731.5,561.9 800.2,616.7 648.2,639.0 580.9,583.4"/>
<polyline class="ln" points="580.9,583.4 731.5,561.9"/>
<polygon class="lw" points="648.2,639.0 800.2,616.7 819.2,636.0 666.0,658.0"/>
<polyline class="ln" points="663.0,654.5 816.0,633.1" stroke-width="0.900"/>
<polyline class="ln" points="667.0,657.9 818.5,636.5" stroke-width="2.200" style="stroke:#2b2b2b"/>
<circle cx="677.0" cy="655.1" r="1.200" fill="#111"/><circle cx="809.5" cy="636.5" r="1.200" fill="#111"/>
<polyline class="ln" points="417.5,515.8 476.5,530.7" stroke-width="0.800"/>
<polyline class="ln" points="486.0,535.0 574.0,581.0" stroke-width="0.800"/>
<polyline class="ln" points="582.5,587.5 645.5,640.5" stroke-width="0.800"/>
<polyline class="ln" points="476.5,527.9 476.5,558.0"/>
<polyline class="ln" points="483.8,531.4 483.8,562.1" stroke-width="1.400"/>
<polyline class="ln" points="572.0,578.3 572.0,608.0"/>
<polyline class="ln" points="579.5,583.0 579.5,612.0"/>
<polyline class="ln" points="415.7,512.5 417.0,526.5"/>
<ellipse cx="423.3" cy="522.1" rx="1" ry="1.400" fill="#111"/>
<ellipse cx="498.0" cy="546.2" rx="1" ry="1.400" fill="#111"/>
<ellipse cx="557.0" cy="577.1" rx="1" ry="1.400" fill="#111"/>
<ellipse cx="631.0" cy="632.0" rx="1" ry="1.400" fill="#111"/>
<ellipse cx="569.0" cy="590.0" rx="1" ry="1.400" fill="#111"/>
<path class="lw" stroke-width="1.900" d="M445.3,525.2 L458.3,529.1 Q461.7,530.1 461.3,533.7 L461.3,544.8 Q461.3,548.5 457.5,547.0 L446.1,543.9 Q442.3,542.8 442.3,539.1 L442.3,528.0 Q442.3,524.3 445.3,525.2 Z"/>
<path class="ln" stroke-width="0.900" d="M446.5,528.5 L457.5,531.8 L458.6,534.8 L458.6,542.9 L457.1,544.3 L446.5,541.1 L445.0,538.4 L445.0,530.3 Z"/>
<path class="ln" stroke-width="1.100" d="M445.3,531.5 L458.6,535.5"/>
<path class="ln" stroke-width="1.100" d="M445.3,534.8 L458.6,538.8"/>
<path class="ln" stroke-width="1.100" d="M445.3,537.8 L458.6,541.8"/>
<circle cx="444.6" cy="527.2" r="1.300" fill="#1a1a1a"/>
<circle cx="459.4" cy="531.6" r="1.300" fill="#1a1a1a"/>
<circle cx="444.2" cy="541.1" r="1.300" fill="#1a1a1a"/>
<circle cx="459.0" cy="545.6" r="1.300" fill="#1a1a1a"/>
<path class="lw" stroke-width="1.900" d="M519.1,556.8 L532.4,562.4 Q535.9,563.9 535.5,567.4 L535.5,578.5 Q535.5,582.2 531.6,580.2 L519.9,575.6 Q516.0,574.0 516.0,570.3 L516.0,559.2 Q516.0,555.5 519.1,556.8 Z"/>
<path class="ln" stroke-width="0.900" d="M520.3,560.3 L531.6,565.0 L532.8,568.1 L532.8,576.2 L531.2,577.4 L520.3,572.8 L518.7,570.0 L518.7,561.8 Z"/>
<path class="ln" stroke-width="1.100" d="M519.1,563.1 L532.8,568.8"/>
<path class="ln" stroke-width="1.100" d="M519.1,566.4 L532.8,572.2"/>
<path class="ln" stroke-width="1.100" d="M519.1,569.4 L532.8,575.1"/>
<circle cx="518.3" cy="558.7" r="1.300" fill="#1a1a1a"/>
<circle cx="533.5" cy="565.1" r="1.300" fill="#1a1a1a"/>
<circle cx="518.0" cy="572.6" r="1.300" fill="#1a1a1a"/>
<circle cx="533.2" cy="579.0" r="1.300" fill="#1a1a1a"/>
<path class="lw" stroke-width="1.900" d="M594.7,603.5 L608.3,611.9 Q611.9,614.1 611.5,617.3 L611.5,627.5 Q611.5,630.9 607.5,628.1 L595.5,621.0 Q591.5,618.5 591.5,615.1 L591.5,604.9 Q591.5,601.5 594.7,603.5 Z"/>
<path class="ln" stroke-width="0.900" d="M595.9,606.9 L607.5,614.1 L608.7,617.3 L608.7,624.7 L607.1,625.5 L595.9,618.5 L594.3,615.5 L594.3,608.0 Z"/>
<path class="ln" stroke-width="1.100" d="M594.7,609.3 L608.7,617.9"/>
<path class="ln" stroke-width="1.100" d="M594.7,612.3 L608.7,621.0"/>
<path class="ln" stroke-width="1.100" d="M594.7,615.0 L608.7,623.7"/>
<circle cx="593.9" cy="605.0" r="1.300" fill="#1a1a1a"/>
<circle cx="609.5" cy="614.7" r="1.300" fill="#1a1a1a"/>
<circle cx="593.5" cy="617.7" r="1.300" fill="#1a1a1a"/>
<circle cx="609.1" cy="627.4" r="1.300" fill="#1a1a1a"/>
<polygon class="lw" points="551.8,545.5 589.8,540.9 597.9,548.0 561.9,552.5" style="fill:#1d1d1d"/>
<polyline class="ln" points="559.9,549.6 590.9,544.2" style="stroke:#bdbdbd" stroke-width="1.200"/>
<polygon class="lw" points="607.0,537.1 642.9,532.8 652.5,539.8 616.4,544.9" style="fill:#1d1d1d"/>
<polyline class="ln" points="614.7,541.6 644.7,536.1" style="stroke:#bdbdbd" stroke-width="1.200"/>
<polygon class="lw" points="570.0,561.1 620.2,554.3 627.8,559.4 578.4,566.2" style="fill:#2a2a2a"/>
<polygon class="lw" points="575.0,563.0 618.7,556.5 623.3,558.8 579.4,565.0" stroke-width="0.500"/>
<polygon class="lw" points="629.0,551.8 678.4,545.4 686.0,550.5 637.9,557.6" style="fill:#2a2a2a"/>
<polygon class="lw" points="634.0,553.7 676.9,547.6 681.5,549.9 638.9,556.4" stroke-width="0.500"/>
</g>
<g>
<polygon class="lw" points="271.0,569.8 455.0,542.2 462.6,549.0 281.0,573.5"/>
<polygon class="lw" points="281.0,573.5 462.6,549.0 463.5,564.2 299.7,588.4"/>
<polyline class="ln" points="276.0,571.6 458.5,545.5" stroke-width="0.900"/>
<polyline class="ln" points="281.0,574.6 352.0,565.0" stroke-width="1"/>
<polyline class="ln" points="299.7,587.6 349.5,580.0" stroke-width="1.400"/>
<polyline class="ln" points="416.2,569.8 463.5,563.4" stroke-width="1.200"/>
</g>
<polygon class="lw" points="455.0,538.0 465.2,531.2 477.8,530.4 496.4,544.8 504.8,544.8 504.8,573.5 496.4,574.3 482.9,574.3 463.5,564.2 463.5,545.6 457.6,541.4" stroke-width="1.300"/>
<polyline class="ln" points="463.5,545.6 482.9,551.5 482.9,574.3" stroke-width="1.300"/>
<polyline class="ln" points="482.9,551.5 496.4,544.8 496.4,574.3" stroke-width="1.200"/>
<polyline class="ln" points="457.6,541.4 468.0,534.5 496.4,544.8" stroke-width="0.900"/>
<g>
<polygon class="lw" points="34.2,568.0 95.0,583.4 102.5,586.9 192.5,633.9 199.4,638.9 266.7,694.5 284.5,713.5 35.5,582.0"/>
<polygon class="lw" points="14.4,569.8 34.2,568.0 35.5,582.0"/>
<polyline class="ln" points="17.5,571.0 33.0,569.6" stroke-width="0.800"/>
<polygon class="lw" points="34.2,568.0 186.2,545.2 244.5,559.6 95.0,583.4"/>
<polyline class="ln" points="40.0,569.3 186.8,547.0" stroke-width="0.800"/>
<polygon class="lw" points="95.0,583.4 244.5,559.6 254.5,561.4 340.0,612.3 191.8,633.8"/>
<polyline class="ln" points="102.5,586.9 253.0,565.4"/>
<polygon class="lw" points="255.4,561.2 281.4,575.7 280.3,578.2 253.5,563.6" stroke-width="1"/>
<polygon class="lw" points="191.8,633.8 340.0,612.3 350.0,617.4 418.7,672.2 266.7,694.5 199.4,638.9"/>
<polyline class="ln" points="199.4,638.9 350.0,617.4"/>
<polygon class="lw" points="266.7,694.5 418.7,672.2 437.7,691.5 284.5,713.5"/>
<polyline class="ln" points="281.5,710.0 434.5,688.6" stroke-width="0.900"/>
<polyline class="ln" points="285.5,713.4 437.0,692.0" stroke-width="2.200" style="stroke:#2b2b2b"/>
<circle cx="295.5" cy="710.6" r="1.200" fill="#111"/><circle cx="428.0" cy="692.0" r="1.200" fill="#111"/>
<polyline class="ln" points="36.0,571.3 95.0,586.2" stroke-width="0.800"/>
<polyline class="ln" points="104.5,590.5 192.5,636.5" stroke-width="0.800"/>
<polyline class="ln" points="201.0,643.0 264.0,696.0" stroke-width="0.800"/>
<polyline class="ln" points="95.0,583.4 95.0,613.5"/>
<polyline class="ln" points="102.3,586.9 102.3,617.6" stroke-width="1.400"/>
<polyline class="ln" points="190.5,633.8 190.5,663.5"/>
<polyline class="ln" points="198.0,638.5 198.0,667.5"/>
<polyline class="ln" points="34.2,568.0 35.5,582.0"/>
<ellipse cx="41.8" cy="577.6" rx="1" ry="1.400" fill="#111"/>
<ellipse cx="116.5" cy="601.7" rx="1" ry="1.400" fill="#111"/>
<ellipse cx="175.5" cy="632.6" rx="1" ry="1.400" fill="#111"/>
<ellipse cx="249.5" cy="687.5" rx="1" ry="1.400" fill="#111"/>
<ellipse cx="187.5" cy="645.5" rx="1" ry="1.400" fill="#111"/>
<path class="lw" stroke-width="1.900" d="M63.8,580.7 L76.8,584.6 Q80.2,585.6 79.8,589.2 L79.8,600.3 Q79.8,604.0 76.0,602.5 L64.6,599.4 Q60.8,598.3 60.8,594.6 L60.8,583.5 Q60.8,579.8 63.8,580.7 Z"/>
<path class="ln" stroke-width="0.900" d="M65.0,584.0 L76.0,587.3 L77.1,590.3 L77.1,598.4 L75.6,599.8 L65.0,596.6 L63.5,593.9 L63.5,585.8 Z"/>
<path class="ln" stroke-width="1.100" d="M63.8,587.0 L77.1,591.0"/>
<path class="ln" stroke-width="1.100" d="M63.8,590.3 L77.1,594.3"/>
<path class="ln" stroke-width="1.100" d="M63.8,593.3 L77.1,597.3"/>
<circle cx="63.1" cy="582.7" r="1.300" fill="#1a1a1a"/>
<circle cx="77.9" cy="587.1" r="1.300" fill="#1a1a1a"/>
<circle cx="62.7" cy="596.6" r="1.300" fill="#1a1a1a"/>
<circle cx="77.5" cy="601.1" r="1.300" fill="#1a1a1a"/>
<path class="lw" stroke-width="1.900" d="M137.6,612.3 L150.9,617.9 Q154.4,619.4 154.0,622.9 L154.0,634.0 Q154.0,637.7 150.1,635.7 L138.4,631.1 Q134.5,629.5 134.5,625.8 L134.5,614.7 Q134.5,611.0 137.6,612.3 Z"/>
<path class="ln" stroke-width="0.900" d="M138.8,615.8 L150.1,620.5 L151.3,623.6 L151.3,631.7 L149.7,632.9 L138.8,628.3 L137.2,625.5 L137.2,617.3 Z"/>
<path class="ln" stroke-width="1.100" d="M137.6,618.6 L151.3,624.3"/>
<path class="ln" stroke-width="1.100" d="M137.6,621.9 L151.3,627.7"/>
<path class="ln" stroke-width="1.100" d="M137.6,624.9 L151.3,630.6"/>
<circle cx="136.8" cy="614.2" r="1.300" fill="#1a1a1a"/>
<circle cx="152.1" cy="620.6" r="1.300" fill="#1a1a1a"/>
<circle cx="136.4" cy="628.1" r="1.300" fill="#1a1a1a"/>
<circle cx="151.7" cy="634.5" r="1.300" fill="#1a1a1a"/>
<path class="lw" stroke-width="1.900" d="M213.2,659.0 L226.8,667.4 Q230.4,669.6 230.0,672.8 L230.0,683.0 Q230.0,686.4 226.0,683.6 L214.0,676.5 Q210.0,674.0 210.0,670.6 L210.0,660.4 Q210.0,657.0 213.2,659.0 Z"/>
<path class="ln" stroke-width="0.900" d="M214.4,662.4 L226.0,669.6 L227.2,672.8 L227.2,680.2 L225.6,681.0 L214.4,674.0 L212.8,671.0 L212.8,663.5 Z"/>
<path class="ln" stroke-width="1.100" d="M213.2,664.8 L227.2,673.4"/>
<path class="ln" stroke-width="1.100" d="M213.2,667.8 L227.2,676.5"/>
<path class="ln" stroke-width="1.100" d="M213.2,670.5 L227.2,679.2"/>
<circle cx="212.4" cy="660.5" r="1.300" fill="#1a1a1a"/>
<circle cx="228.0" cy="670.2" r="1.300" fill="#1a1a1a"/>
<circle cx="212.0" cy="673.2" r="1.300" fill="#1a1a1a"/>
<circle cx="227.6" cy="682.9" r="1.300" fill="#1a1a1a"/>
<polygon class="lw" points="170.3,601.0 208.3,596.4 216.4,603.5 180.4,608.0" style="fill:#1d1d1d"/>
<polyline class="ln" points="178.4,605.1 209.4,599.8" style="stroke:#bdbdbd" stroke-width="1.200"/>
<polygon class="lw" points="225.5,592.6 261.4,588.3 271.0,595.3 234.9,600.4" style="fill:#1d1d1d"/>
<polyline class="ln" points="233.2,597.1 263.2,591.6" style="stroke:#bdbdbd" stroke-width="1.200"/>
<polygon class="lw" points="188.5,616.6 238.7,609.8 246.3,614.9 196.9,621.7" style="fill:#2a2a2a"/>
<polygon class="lw" points="193.5,618.5 237.2,612.0 241.8,614.3 197.9,620.5" stroke-width="0.500"/>
<polygon class="lw" points="247.5,607.3 296.9,600.9 304.5,606.0 256.4,613.1" style="fill:#2a2a2a"/>
<polygon class="lw" points="252.5,609.2 295.4,603.1 300.0,605.4 257.4,611.9" stroke-width="0.500"/>
<polygon class="lw" points="235.8,647.5 244.0,646.2 245.2,650.0 237.0,651.4" stroke-width="1.200"/>
<polyline class="ln" points="235.8,647.5 244.0,646.2" stroke-width="1.800"/>
<polygon class="lw" points="251.0,645.5 259.2,644.2 260.4,648.0 252.2,649.4" stroke-width="1.200"/>
<polyline class="ln" points="251.0,645.5 259.2,644.2" stroke-width="1.800"/>
<polygon class="lw" points="266.5,643.2 274.7,641.9 275.9,645.7 267.7,647.1" stroke-width="1.200"/>
<polyline class="ln" points="266.5,643.2 274.7,641.9" stroke-width="1.800"/>
<polygon class="lw" points="281.7,640.9 289.9,639.6 291.1,643.4 282.9,644.8" stroke-width="1.200"/>
<polyline class="ln" points="281.7,640.9 289.9,639.6" stroke-width="1.800"/>
<polygon class="lw" points="296.9,638.9 305.1,637.6 306.3,641.4 298.1,642.8" stroke-width="1.200"/>
<polyline class="ln" points="296.9,638.9 305.1,637.6" stroke-width="1.800"/>
<polygon class="lw" points="312.1,636.9 320.3,635.6 321.5,639.4 313.3,640.8" stroke-width="1.200"/>
<polyline class="ln" points="312.1,636.9 320.3,635.6" stroke-width="1.800"/>
<polygon class="lw" points="327.3,634.6 335.5,633.3 336.7,637.1 328.5,638.5" stroke-width="1.200"/>
<polyline class="ln" points="327.3,634.6 335.5,633.3" stroke-width="1.800"/>
<polygon class="lw" points="343.0,632.3 351.2,631.0 352.4,634.8 344.2,636.2" stroke-width="1.200"/>
<polyline class="ln" points="343.0,632.3 351.2,631.0" stroke-width="1.800"/>
<polygon class="lw" points="278.1,683.3 286.3,682.0 287.5,685.8 279.3,687.2" stroke-width="1.200"/>
<polyline class="ln" points="278.1,683.3 286.3,682.0" stroke-width="1.800"/>
<polygon class="lw" points="293.3,681.1 301.5,679.8 302.7,683.6 294.5,685.0" stroke-width="1.200"/>
<polyline class="ln" points="293.3,681.1 301.5,679.8" stroke-width="1.800"/>
<polygon class="lw" points="308.7,678.8 316.9,677.5 318.1,681.3 309.9,682.7" stroke-width="1.200"/>
<polyline class="ln" points="308.7,678.8 316.9,677.5" stroke-width="1.800"/>
<polygon class="lw" points="324.2,676.7 332.4,675.4 333.6,679.2 325.4,680.6" stroke-width="1.200"/>
<polyline class="ln" points="324.2,676.7 332.4,675.4" stroke-width="1.800"/>
<polygon class="lw" points="339.4,674.7 347.6,673.4 348.8,677.2 340.6,678.6" stroke-width="1.200"/>
<polyline class="ln" points="339.4,674.7 347.6,673.4" stroke-width="1.800"/>
<polygon class="lw" points="354.8,672.4 363.0,671.1 364.2,674.9 356.0,676.3" stroke-width="1.200"/>
<polyline class="ln" points="354.8,672.4 363.0,671.1" stroke-width="1.800"/>
<polygon class="lw" points="370.0,670.2 378.2,668.9 379.4,672.7 371.2,674.1" stroke-width="1.200"/>
<polyline class="ln" points="370.0,670.2 378.2,668.9" stroke-width="1.800"/>
<polygon class="lw" points="385.2,668.1 393.4,666.8 394.6,670.6 386.4,672.0" stroke-width="1.200"/>
<polyline class="ln" points="385.2,668.1 393.4,666.8" stroke-width="1.800"/>
<polygon class="lw" points="91.3,591.0 98.5,594.0 99.2,607.7 92.0,604.8" stroke-width="1.700"/>
<path class="lw" stroke-width="1.700" d="M106.4,618.5 L106.4,604.5 Q109.5,598.0 112.7,607.0 L112.7,621.5"/>
<path class="ln" stroke-width="1.300" d="M108.2,619.3 L108.2,606.0 Q109.8,602.5 111.0,607.5 L111.0,620.5"/>
</g>
<polygon class="lw" points="352.5,563.6 384.5,559.8 415.5,570.1 383.4,574.6" stroke-width="1.500"/>
<polygon class="lw" points="352.5,563.6 383.4,574.6 381.3,597.2 349.8,580.4" stroke-width="1.500"/>
<polygon class="lw" points="383.4,574.6 415.5,570.1 418.7,591.8 381.3,597.2" stroke-width="1.500"/>
<path d="M391.400,576.300 L407.600,574.400 Q409,574.300 409.100,575.700 L409.700,588.700 Q409.700,590 408.400,590.200 L392,592 Q390.700,592.100 390.600,590.800 L390.100,577.800 Q390.100,576.500 391.400,576.300 Z" fill="#0c0c0c"/>
<circle cx="392.700" cy="579.200" r="1" fill="#f4f4f4"/><circle cx="406.300" cy="577.600" r="1" fill="#f4f4f4"/>
<ellipse cx="392.900" cy="586.200" rx="1" ry="1.600" fill="#f4f4f4"/><ellipse cx="406.700" cy="584.600" rx="1" ry="1.600" fill="#f4f4f4"/>
<path d="M395.500,589.800 L397.800,587.200 L402.500,586.700 L405,588.800 L405,589.300 L395.500,590.400 Z" fill="#f4f4f4"/>
<line x1="394.200" y1="582.400" x2="396" y2="582.200" stroke="#f4f4f4" stroke-width="0.800"/><line x1="404" y1="581.300" x2="405.800" y2="581.100" stroke="#f4f4f4" stroke-width="0.800"/>
</g>
<!-- ===== mouse I-beam cursor ===== -->
<path d="M2,30.500 H5 M6,30.500 H9 M5.500,31 V45 M2,45.500 H5 M6,45.500 H9" fill="none" stroke="#0a0a0a" stroke-width="1" shape-rendering="crispEdges"/>
</svg>
</body>
</html>
